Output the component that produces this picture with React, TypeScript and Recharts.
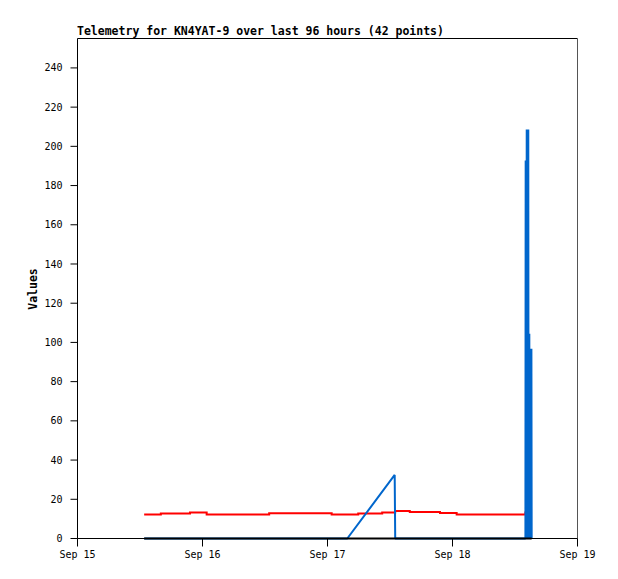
import { ComposedChart, Line, XAxis, YAxis, ReferenceLine } from 'recharts';

// hours since Sep 15 00:00
const HOURS = [
  12.8, 16.0, 21.6, 24.8, 30.5, 36.8, 43.0, 48.8, 51.8, 53.9, 58.5, 60.9, 61.0, 63.8, 69.6, 72.8,
  85.9, 86.0, 86.05, 86.1, 86.15, 86.2, 86.25, 86.3, 86.35, 86.4, 86.45, 86.5, 86.55, 86.6,
  86.65, 86.7, 86.75, 86.8, 86.85, 86.9, 86.95, 87.0, 87.05, 87.1, 87.15, 87.2,
];
const RED = [
  12.2, 12.7, 13.2, 12.2, 12.2, 12.9, 12.9, 12.2, 12.2, 12.7, 13.2, 13.2, 14.0, 13.5, 13.0, 12.2,
  12.2, 13.2, 13.2, 13.2, 13.2, 13.2, 13.2, 13.2, 13.2, 13.2, 13.2, 13.2, 13.2, 13.2,
  13.2, 13.2, 13.2, 13.2, 13.2, 13.2, 13.2, 13.2, 13.2, 13.2, 13.2, 13.2,
];
const BLUE = [
  0, 0, 0, 0, 0, 0, 0, 0, 0, null, null, 32.4, 0, 0, 0, 0,
  0, 0, 192.8, 0, 192.8, 0, 208.6, 0, 208.6, 0, 208.6, 0, 208.6, 0,
  104.4, 0, 104.4, 0, 96.8, 0, 96.8, 0, 96.8, 0, 96.8, 0,
];
const BLACK = [
  0, 0, 0, 0, 0, 0, 0, 0, 0, 0, 0, 0, 0, 0, 0, 0,
  0, 0, 0, 0, 0, 0, 0, 0, 0, 0, 0, 0, 0, 0,
  0, 0, 0, 0, 0, 0, 0, 0, 0, 0, 0, 0,
];

const X_TICKS = [0, 24, 48, 72, 96];
const X_LABELS = ['Sep 15', 'Sep 16', 'Sep 17', 'Sep 18', 'Sep 19'];
const Y_TICKS = [0, 20, 40, 60, 80, 100, 120, 140, 160, 180, 200, 220, 240];

const TITLE = 'Telemetry for KN4YAT-9 over last 96 hours (42 points)';
const FONT = 'DejaVu Sans Mono';

const data = HOURS.map((t, i) => ({ t, red: RED[i], blue: BLUE[i], black: BLACK[i] }));

export default function App() {
  const tick = { fontFamily: FONT, fontSize: 10, fill: '#000' };
  return (
    <div style={{ position: 'absolute', left: 0, top: 0, width: 618, height: 579, background: '#fff' }}>
      <ComposedChart
        width={618}
        height={579}
        data={data}
        margin={{ top: 38.5, right: 40.5, bottom: 10.5, left: 0.5 }}
      >
        <XAxis
          dataKey="t"
          type="number"
          domain={[0, 96]}
          ticks={X_TICKS}
          tickFormatter={(v: number) => X_LABELS[X_TICKS.indexOf(v)]}
          stroke="#000"
          tickSize={8}
          tickMargin={4}
          height={30}
          tick={tick}
          interval={0}
        />
        <YAxis
          type="number"
          domain={[0, 255]}
          ticks={Y_TICKS}
          stroke="#000"
          tickSize={7}
          tickMargin={8}
          width={77}
          tick={tick}
          interval={0}
        />
        <ReferenceLine y={255} stroke="#000" strokeWidth={1} />
        <ReferenceLine x={96} stroke="#555" strokeWidth={1} />
        <Line
          dataKey="red"
          type="stepAfter"
          stroke="#ff0000"
          strokeWidth={2}
          dot={false}
          isAnimationActive={false}
        />
        <Line
          dataKey="blue"
          type="linear"
          stroke="#0066cc"
          strokeWidth={2}
          strokeLinejoin="bevel"
          dot={false}
          connectNulls
          isAnimationActive={false}
        />
        <Line
          dataKey="black"
          type="linear"
          stroke="#000"
          strokeWidth={2}
          dot={false}
          isAnimationActive={false}
        />
      </ComposedChart>
      <svg width={618} height={579} style={{ position: 'absolute', left: 0, top: 0, pointerEvents: 'none' }}>
        <text x={77} y={35} fontFamily={FONT} fontWeight="bold" fontSize={11.5} fill="#000">
          {TITLE}
        </text>
        <text
          transform="translate(37,289) rotate(-90)"
          textAnchor="middle"
          fontFamily={FONT}
          fontWeight="bold"
          fontSize={11.5}
          fill="#000"
        >
          Values
        </text>
      </svg>
    </div>
  );
}
